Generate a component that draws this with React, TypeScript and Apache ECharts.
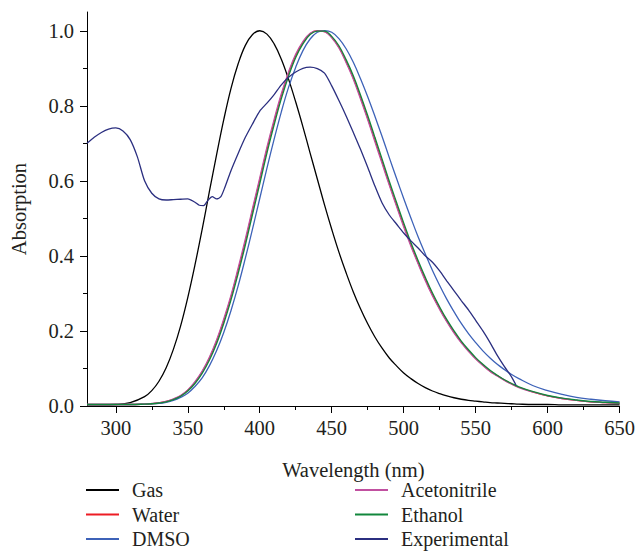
import React, { useEffect, useRef } from "react";
import * as echarts from "echarts";

// Wavelength grid (nm) for the computed spectra
const wavelengths = [
  280, 290, 300, 310, 320, 325, 330, 335, 340, 345, 350, 355, 360, 365, 370, 375, 380, 385, 390,
  395, 400, 405, 410, 415, 420, 425, 430, 435, 440, 445, 450, 455, 460, 465, 470, 475, 480, 485,
  490, 495, 500, 505, 510, 515, 520, 525, 530, 535, 540, 545, 550, 555, 560, 565, 570, 575, 580,
  590, 600, 610, 620, 630, 640, 650,
];

const gas = [
  0.003, 0.003, 0.004, 0.009, 0.025, 0.041, 0.066, 0.102, 0.151, 0.213, 0.289, 0.376, 0.471, 0.571,
  0.669, 0.763, 0.846, 0.912, 0.961, 0.99, 1.0, 0.991, 0.965, 0.924, 0.871, 0.81, 0.744, 0.674,
  0.605, 0.536, 0.471, 0.41, 0.355, 0.304, 0.259, 0.219, 0.184, 0.154, 0.128, 0.107, 0.088, 0.073,
  0.06, 0.049, 0.04, 0.033, 0.027, 0.022, 0.018, 0.015, 0.013, 0.011, 0.009, 0.008, 0.007, 0.006,
  0.005, 0.004, 0.004, 0.003, 0.003, 0.003, 0.003, 0.003,
];

const water = [
  0.004, 0.004, 0.004, 0.004, 0.005, 0.006, 0.008, 0.012, 0.018, 0.027, 0.042, 0.063, 0.091, 0.127,
  0.172, 0.227, 0.29, 0.362, 0.438, 0.521, 0.602, 0.683, 0.758, 0.827, 0.886, 0.934, 0.969, 0.992,
  1.0, 0.998, 0.983, 0.956, 0.918, 0.874, 0.823, 0.767, 0.709, 0.651, 0.592, 0.536, 0.482, 0.43,
  0.382, 0.338, 0.296, 0.26, 0.226, 0.197, 0.17, 0.147, 0.127, 0.109, 0.093, 0.081, 0.069, 0.059,
  0.05, 0.037, 0.027, 0.02, 0.015, 0.011, 0.009, 0.007,
];

const dmso = [
  0.004, 0.004, 0.004, 0.004, 0.005, 0.006, 0.007, 0.01, 0.015, 0.023, 0.034, 0.052, 0.075, 0.107,
  0.147, 0.196, 0.254, 0.32, 0.394, 0.472, 0.553, 0.634, 0.711, 0.784, 0.849, 0.903, 0.947, 0.978,
  0.996, 1.0, 0.996, 0.979, 0.952, 0.916, 0.872, 0.824, 0.772, 0.718, 0.662, 0.607, 0.553, 0.501,
  0.451, 0.405, 0.361, 0.321, 0.284, 0.251, 0.22, 0.193, 0.169, 0.147, 0.128, 0.111, 0.097, 0.084,
  0.073, 0.054, 0.041, 0.031, 0.023, 0.018, 0.014, 0.011,
];

const acetonitrile = [
  0.004, 0.004, 0.004, 0.004, 0.005, 0.007, 0.009, 0.012, 0.019, 0.028, 0.043, 0.065, 0.093, 0.13,
  0.176, 0.232, 0.295, 0.368, 0.445, 0.527, 0.608, 0.69, 0.764, 0.832, 0.89, 0.938, 0.971, 0.993,
  1.0, 0.998, 0.981, 0.954, 0.915, 0.871, 0.818, 0.763, 0.704, 0.646, 0.588, 0.532, 0.477, 0.426,
  0.379, 0.334, 0.293, 0.257, 0.224, 0.194, 0.168, 0.146, 0.125, 0.108, 0.092, 0.08, 0.068, 0.058,
  0.049, 0.037, 0.027, 0.02, 0.015, 0.011, 0.009, 0.007,
];

const ethanol = [
  0.004, 0.004, 0.004, 0.004, 0.005, 0.006, 0.008, 0.011, 0.017, 0.026, 0.04, 0.06, 0.087, 0.122,
  0.166, 0.22, 0.282, 0.353, 0.429, 0.511, 0.592, 0.674, 0.749, 0.819, 0.879, 0.929, 0.965, 0.99,
  0.999, 0.999, 0.985, 0.96, 0.923, 0.88, 0.829, 0.774, 0.716, 0.658, 0.599, 0.543, 0.488, 0.436,
  0.388, 0.343, 0.301, 0.264, 0.23, 0.2, 0.173, 0.15, 0.129, 0.111, 0.095, 0.082, 0.07, 0.06,
  0.051, 0.038, 0.028, 0.021, 0.016, 0.012, 0.01, 0.008,
];

// Measured spectrum
const expWavelengths = [
  280, 285, 290, 295, 300, 305, 310, 315, 320, 325, 330, 335, 340, 345, 350, 355, 358, 361, 364,
  367, 370, 373, 376, 380, 385, 390, 395, 400, 405, 410, 415, 420, 425, 430, 435, 440, 445, 450,
  455, 460, 465, 470, 475, 480, 485, 490, 495, 500, 505, 510, 515, 520, 525, 530, 535, 540, 545,
  550, 555, 560, 565, 570, 575, 578,
];

const experimental = [
  0.7, 0.716, 0.729, 0.738, 0.741, 0.733, 0.71, 0.664, 0.6, 0.567, 0.552, 0.549, 0.55, 0.551,
  0.552, 0.543, 0.535, 0.534, 0.548, 0.558, 0.552, 0.558, 0.585, 0.627, 0.673, 0.716, 0.752,
  0.786, 0.807, 0.83, 0.856, 0.876, 0.89, 0.9, 0.903, 0.899, 0.887, 0.853, 0.814, 0.773, 0.729,
  0.684, 0.636, 0.586, 0.541, 0.509, 0.485, 0.461, 0.44, 0.421, 0.4, 0.383, 0.36, 0.333, 0.307,
  0.281, 0.256, 0.228, 0.2, 0.169, 0.135, 0.105, 0.077, 0.056,
];

const xTickValues = [300, 350, 400, 450, 500, 550, 600, 650];
const xMinorTicks = [325, 375, 425, 475, 525, 575, 625];
const yTickValues = [0, 0.2, 0.4, 0.6, 0.8, 1.0];
const yMinorTicks = [0.1, 0.3, 0.5, 0.7, 0.9];

const seriesDefs = [
  { name: "Gas", values: gas, color: "#000000" },
  { name: "Water", values: water, color: "#ed1c24" },
  { name: "DMSO", values: dmso, color: "#3d62b8" },
  { name: "Acetonitrile", values: acetonitrile, color: "#c150a0" },
  { name: "Ethanol", values: ethanol, color: "#12873c" },
];
const experimentalColor = "#2b2f80";

const FONT = "Liberation Serif";
const FONT_SIZE = 20.5;
const TEXT_COLOR = "#231f20";

export default function App() {
  const ref = useRef<HTMLDivElement>(null);

  useEffect(() => {
    if (!ref.current) return;
    document.body.style.margin = "0";
    const chart = echarts.init(ref.current, undefined, { renderer: "svg" });

    const lineSeries: any[] = seriesDefs.map((s) => ({
      name: s.name,
      type: "line",
      xAxisIndex: 0,
      yAxisIndex: 0,
      data: wavelengths.map((w, i) => [w, s.values[i]]),
      showSymbol: false,
      symbol: "none",
      smooth: 0.4,
      color: s.color,
      lineStyle: { color: s.color, width: 1.3 },
    }));
    lineSeries.push({
      name: "Experimental",
      type: "line",
      xAxisIndex: 0,
      yAxisIndex: 0,
      data: expWavelengths.map((w, i) => [w, experimental[i]]),
      showSymbol: false,
      symbol: "none",
      smooth: 0.25,
      color: experimentalColor,
      lineStyle: { color: experimentalColor, width: 1.3 },
    });

    const legendCommon = {
      orient: "vertical",
      top: 480,
      height: 240,
      icon: "rect",
      itemWidth: 33,
      itemHeight: 2,
      itemGap: 4.5,
      padding: 0,
      selectedMode: false,
      textStyle: {
        fontFamily: FONT,
        fontSize: 20,
        lineHeight: 20,
        color: TEXT_COLOR,
        padding: [0, 0, 0, 8],
      },
    };

    const axisLineStyle = { color: "#000", width: 1 };

    chart.setOption({
      animation: false,
      backgroundColor: "#ffffff",
      grid: { left: 86, right: 18, top: 12, bottom: 147, containLabel: false },
      legend: [
        { ...legendCommon, left: 86, data: ["Gas", "Water", "DMSO"] },
        { ...legendCommon, left: 355, data: ["Acetonitrile", "Ethanol", "Experimental"] },
      ],
      xAxis: [
        {
          type: "value",
          min: 280,
          max: 650,
          position: "bottom",
          axisLine: { show: true, lineStyle: axisLineStyle },
          axisTick: { show: true, customValues: xTickValues, length: 7, lineStyle: axisLineStyle },
          axisLabel: {
            customValues: xTickValues,
            fontFamily: FONT,
            fontSize: FONT_SIZE,
            color: TEXT_COLOR,
            margin: 11.5,
          },
          splitLine: { show: false },
          name: "Wavelength (nm)",
          nameLocation: "middle",
          nameGap: 53,
          nameTextStyle: { fontFamily: FONT, fontSize: FONT_SIZE, color: TEXT_COLOR },
        },
        {
          type: "value",
          min: 280,
          max: 650,
          position: "bottom",
          axisLine: { show: false },
          axisTick: { show: true, customValues: xMinorTicks, length: 4, lineStyle: axisLineStyle },
          axisLabel: { show: false },
          splitLine: { show: false },
        },
      ],
      yAxis: [
        {
          type: "value",
          min: 0,
          max: 1.05,
          position: "left",
          axisLine: { show: true, lineStyle: axisLineStyle },
          axisTick: { show: true, customValues: yTickValues, length: 7, lineStyle: axisLineStyle },
          axisLabel: {
            customValues: yTickValues,
            formatter: (v: number) => v.toFixed(1),
            fontFamily: FONT,
            fontSize: FONT_SIZE,
            color: TEXT_COLOR,
            margin: 13,
          },
          splitLine: { show: false },
          name: "Absorption",
          nameLocation: "middle",
          nameGap: 58,
          nameTextStyle: { fontFamily: FONT, fontSize: FONT_SIZE, color: TEXT_COLOR },
        },
        {
          type: "value",
          min: 0,
          max: 1.05,
          position: "left",
          axisLine: { show: false },
          axisTick: { show: true, customValues: yMinorTicks, length: 4, lineStyle: axisLineStyle },
          axisLabel: { show: false },
          splitLine: { show: false },
        },
      ],
      series: lineSeries,
    });

    return () => chart.dispose();
  }, []);

  return <div ref={ref} style={{ width: 638, height: 553 }} />;
}
